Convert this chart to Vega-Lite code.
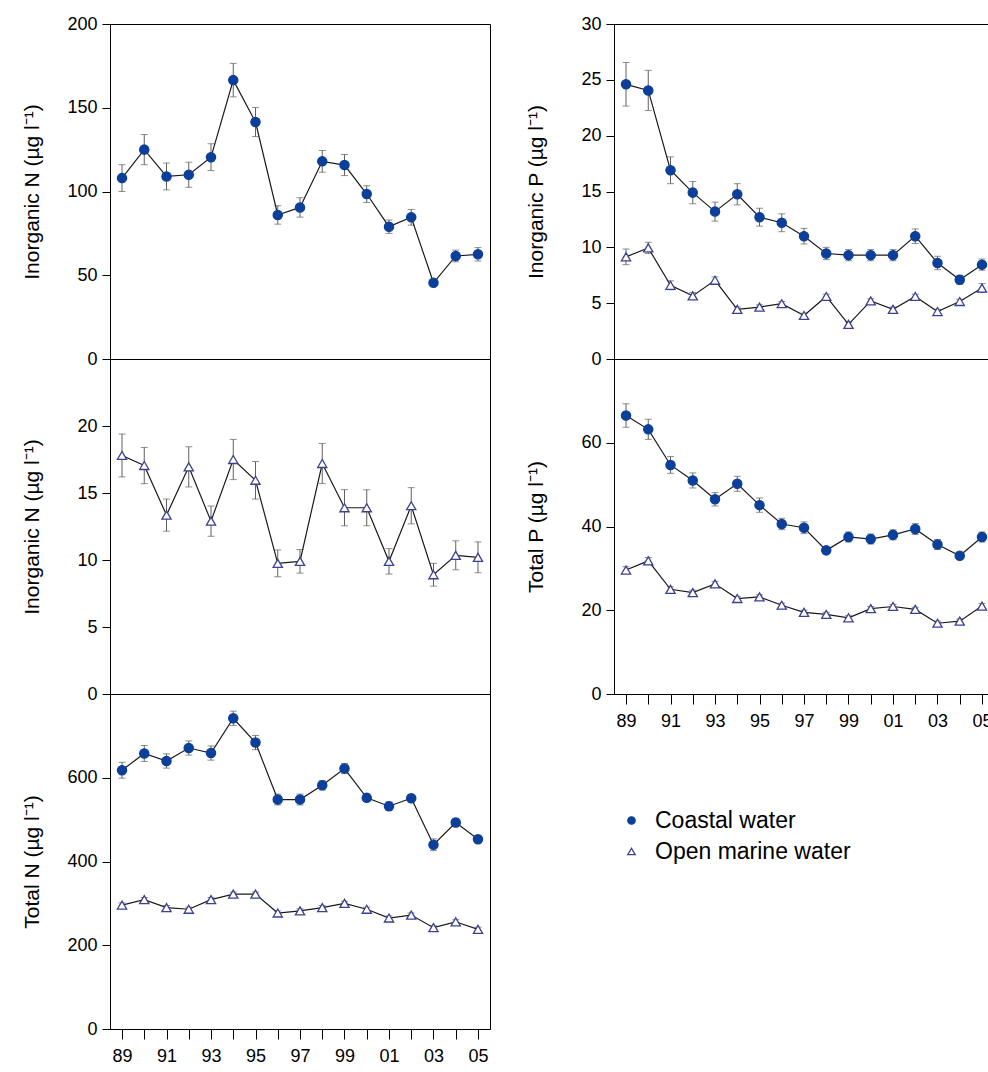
{
  "$schema": "https://vega.github.io/schema/vega-lite/v6.json",
  "background": "white",
  "padding": {"left": 20, "top": 14, "right": 0, "bottom": 0},
  "data": {"values": [
    {"v":"IN","s":"Coastal water","y":1989,"m":108,"e":8},
    {"v":"IN","s":"Coastal water","y":1990,"m":125,"e":9},
    {"v":"IN","s":"Coastal water","y":1991,"m":109,"e":8},
    {"v":"IN","s":"Coastal water","y":1992,"m":110,"e":7.5},
    {"v":"IN","s":"Coastal water","y":1993,"m":120.5,"e":8},
    {"v":"IN","s":"Coastal water","y":1994,"m":166.5,"e":10},
    {"v":"IN","s":"Coastal water","y":1995,"m":141.5,"e":8.7},
    {"v":"IN","s":"Coastal water","y":1996,"m":86,"e":5.5},
    {"v":"IN","s":"Coastal water","y":1997,"m":90.5,"e":5.8},
    {"v":"IN","s":"Coastal water","y":1998,"m":118,"e":6.5},
    {"v":"IN","s":"Coastal water","y":1999,"m":115.8,"e":6.3},
    {"v":"IN","s":"Coastal water","y":2000,"m":98.5,"e":5},
    {"v":"IN","s":"Coastal water","y":2001,"m":79,"e":4},
    {"v":"IN","s":"Coastal water","y":2002,"m":84.6,"e":4.7},
    {"v":"IN","s":"Coastal water","y":2003,"m":45.5,"e":2},
    {"v":"IN","s":"Coastal water","y":2004,"m":61.5,"e":3.5},
    {"v":"IN","s":"Coastal water","y":2005,"m":62.5,"e":4},
    {"v":"IN","s":"Open marine water","y":1989,"m":17.8,"e":1.6},
    {"v":"IN","s":"Open marine water","y":1990,"m":17.05,"e":1.35},
    {"v":"IN","s":"Open marine water","y":1991,"m":13.35,"e":1.2},
    {"v":"IN","s":"Open marine water","y":1992,"m":16.95,"e":1.5},
    {"v":"IN","s":"Open marine water","y":1993,"m":12.9,"e":1.13},
    {"v":"IN","s":"Open marine water","y":1994,"m":17.5,"e":1.5},
    {"v":"IN","s":"Open marine water","y":1995,"m":15.95,"e":1.4},
    {"v":"IN","s":"Open marine water","y":1996,"m":9.75,"e":1.0},
    {"v":"IN","s":"Open marine water","y":1997,"m":9.9,"e":0.88},
    {"v":"IN","s":"Open marine water","y":1998,"m":17.2,"e":1.5},
    {"v":"IN","s":"Open marine water","y":1999,"m":13.9,"e":1.35},
    {"v":"IN","s":"Open marine water","y":2000,"m":13.9,"e":1.35},
    {"v":"IN","s":"Open marine water","y":2001,"m":9.9,"e":0.95},
    {"v":"IN","s":"Open marine water","y":2002,"m":14.05,"e":1.35},
    {"v":"IN","s":"Open marine water","y":2003,"m":8.9,"e":0.85},
    {"v":"IN","s":"Open marine water","y":2004,"m":10.35,"e":1.08},
    {"v":"IN","s":"Open marine water","y":2005,"m":10.2,"e":1.15},
    {"v":"TN","s":"Coastal water","y":1989,"m":618,"e":19},
    {"v":"TN","s":"Coastal water","y":1990,"m":658,"e":19},
    {"v":"TN","s":"Coastal water","y":1991,"m":640,"e":17},
    {"v":"TN","s":"Coastal water","y":1992,"m":671,"e":17},
    {"v":"TN","s":"Coastal water","y":1993,"m":659,"e":17},
    {"v":"TN","s":"Coastal water","y":1994,"m":742,"e":17},
    {"v":"TN","s":"Coastal water","y":1995,"m":684,"e":17},
    {"v":"TN","s":"Coastal water","y":1996,"m":548,"e":13},
    {"v":"TN","s":"Coastal water","y":1997,"m":548,"e":13},
    {"v":"TN","s":"Coastal water","y":1998,"m":582,"e":11},
    {"v":"TN","s":"Coastal water","y":1999,"m":622,"e":12},
    {"v":"TN","s":"Coastal water","y":2000,"m":552,"e":9},
    {"v":"TN","s":"Coastal water","y":2001,"m":532,"e":10},
    {"v":"TN","s":"Coastal water","y":2002,"m":551,"e":9},
    {"v":"TN","s":"Coastal water","y":2003,"m":440,"e":14},
    {"v":"TN","s":"Coastal water","y":2004,"m":493,"e":10},
    {"v":"TN","s":"Coastal water","y":2005,"m":453,"e":8},
    {"v":"TN","s":"Open marine water","y":1989,"m":296,"e":5},
    {"v":"TN","s":"Open marine water","y":1990,"m":309,"e":5},
    {"v":"TN","s":"Open marine water","y":1991,"m":290,"e":5},
    {"v":"TN","s":"Open marine water","y":1992,"m":286,"e":5},
    {"v":"TN","s":"Open marine water","y":1993,"m":309,"e":5},
    {"v":"TN","s":"Open marine water","y":1994,"m":322,"e":5},
    {"v":"TN","s":"Open marine water","y":1995,"m":322,"e":5},
    {"v":"TN","s":"Open marine water","y":1996,"m":277,"e":5},
    {"v":"TN","s":"Open marine water","y":1997,"m":282,"e":5},
    {"v":"TN","s":"Open marine water","y":1998,"m":290,"e":5},
    {"v":"TN","s":"Open marine water","y":1999,"m":300,"e":5},
    {"v":"TN","s":"Open marine water","y":2000,"m":286,"e":5},
    {"v":"TN","s":"Open marine water","y":2001,"m":265,"e":5},
    {"v":"TN","s":"Open marine water","y":2002,"m":272,"e":5},
    {"v":"TN","s":"Open marine water","y":2003,"m":242,"e":5},
    {"v":"TN","s":"Open marine water","y":2004,"m":256,"e":5},
    {"v":"TN","s":"Open marine water","y":2005,"m":238,"e":5},
    {"v":"IP","s":"Coastal water","y":1989,"m":24.6,"e":1.95},
    {"v":"IP","s":"Coastal water","y":1990,"m":24.05,"e":1.8},
    {"v":"IP","s":"Coastal water","y":1991,"m":16.9,"e":1.2},
    {"v":"IP","s":"Coastal water","y":1992,"m":14.9,"e":1.0},
    {"v":"IP","s":"Coastal water","y":1993,"m":13.2,"e":0.85},
    {"v":"IP","s":"Coastal water","y":1994,"m":14.75,"e":0.95},
    {"v":"IP","s":"Coastal water","y":1995,"m":12.7,"e":0.8},
    {"v":"IP","s":"Coastal water","y":1996,"m":12.2,"e":0.8},
    {"v":"IP","s":"Coastal water","y":1997,"m":11.0,"e":0.7},
    {"v":"IP","s":"Coastal water","y":1998,"m":9.45,"e":0.55},
    {"v":"IP","s":"Coastal water","y":1999,"m":9.3,"e":0.5},
    {"v":"IP","s":"Coastal water","y":2000,"m":9.3,"e":0.5},
    {"v":"IP","s":"Coastal water","y":2001,"m":9.3,"e":0.5},
    {"v":"IP","s":"Coastal water","y":2002,"m":11.0,"e":0.65},
    {"v":"IP","s":"Coastal water","y":2003,"m":8.6,"e":0.6},
    {"v":"IP","s":"Coastal water","y":2004,"m":7.1,"e":0.4},
    {"v":"IP","s":"Coastal water","y":2005,"m":8.45,"e":0.5},
    {"v":"IP","s":"Open marine water","y":1989,"m":9.15,"e":0.7},
    {"v":"IP","s":"Open marine water","y":1990,"m":9.95,"e":0.5},
    {"v":"IP","s":"Open marine water","y":1991,"m":6.6,"e":0.4},
    {"v":"IP","s":"Open marine water","y":1992,"m":5.65,"e":0.3},
    {"v":"IP","s":"Open marine water","y":1993,"m":7.05,"e":0.3},
    {"v":"IP","s":"Open marine water","y":1994,"m":4.45,"e":0.2},
    {"v":"IP","s":"Open marine water","y":1995,"m":4.65,"e":0.2},
    {"v":"IP","s":"Open marine water","y":1996,"m":4.95,"e":0.2},
    {"v":"IP","s":"Open marine water","y":1997,"m":3.9,"e":0.2},
    {"v":"IP","s":"Open marine water","y":1998,"m":5.6,"e":0.2},
    {"v":"IP","s":"Open marine water","y":1999,"m":3.1,"e":0.2},
    {"v":"IP","s":"Open marine water","y":2000,"m":5.2,"e":0.2},
    {"v":"IP","s":"Open marine water","y":2001,"m":4.45,"e":0.2},
    {"v":"IP","s":"Open marine water","y":2002,"m":5.6,"e":0.2},
    {"v":"IP","s":"Open marine water","y":2003,"m":4.25,"e":0.2},
    {"v":"IP","s":"Open marine water","y":2004,"m":5.15,"e":0.2},
    {"v":"IP","s":"Open marine water","y":2005,"m":6.35,"e":0.4},
    {"v":"TP","s":"Coastal water","y":1989,"m":66.5,"e":2.8},
    {"v":"TP","s":"Coastal water","y":1990,"m":63.2,"e":2.4},
    {"v":"TP","s":"Coastal water","y":1991,"m":54.7,"e":2},
    {"v":"TP","s":"Coastal water","y":1992,"m":51.0,"e":1.8},
    {"v":"TP","s":"Coastal water","y":1993,"m":46.5,"e":1.6},
    {"v":"TP","s":"Coastal water","y":1994,"m":50.2,"e":1.8},
    {"v":"TP","s":"Coastal water","y":1995,"m":45.1,"e":1.7},
    {"v":"TP","s":"Coastal water","y":1996,"m":40.6,"e":1.35},
    {"v":"TP","s":"Coastal water","y":1997,"m":39.7,"e":1.4},
    {"v":"TP","s":"Coastal water","y":1998,"m":34.3,"e":0.7},
    {"v":"TP","s":"Coastal water","y":1999,"m":37.5,"e":1.2},
    {"v":"TP","s":"Coastal water","y":2000,"m":37.0,"e":1.2},
    {"v":"TP","s":"Coastal water","y":2001,"m":38.0,"e":1.2},
    {"v":"TP","s":"Coastal water","y":2002,"m":39.4,"e":1.3},
    {"v":"TP","s":"Coastal water","y":2003,"m":35.7,"e":1.2},
    {"v":"TP","s":"Coastal water","y":2004,"m":33.0,"e":0.7},
    {"v":"TP","s":"Coastal water","y":2005,"m":37.5,"e":1.2},
    {"v":"TP","s":"Open marine water","y":1989,"m":29.6,"e":0.8},
    {"v":"TP","s":"Open marine water","y":1990,"m":31.8,"e":0.8},
    {"v":"TP","s":"Open marine water","y":1991,"m":25.0,"e":0.6},
    {"v":"TP","s":"Open marine water","y":1992,"m":24.2,"e":0.6},
    {"v":"TP","s":"Open marine water","y":1993,"m":26.3,"e":0.6},
    {"v":"TP","s":"Open marine water","y":1994,"m":22.8,"e":0.5},
    {"v":"TP","s":"Open marine water","y":1995,"m":23.2,"e":0.5},
    {"v":"TP","s":"Open marine water","y":1996,"m":21.2,"e":0.5},
    {"v":"TP","s":"Open marine water","y":1997,"m":19.5,"e":0.5},
    {"v":"TP","s":"Open marine water","y":1998,"m":19.0,"e":0.5},
    {"v":"TP","s":"Open marine water","y":1999,"m":18.2,"e":0.5},
    {"v":"TP","s":"Open marine water","y":2000,"m":20.4,"e":0.5},
    {"v":"TP","s":"Open marine water","y":2001,"m":20.9,"e":0.5},
    {"v":"TP","s":"Open marine water","y":2002,"m":20.2,"e":0.5},
    {"v":"TP","s":"Open marine water","y":2003,"m":16.9,"e":0.5},
    {"v":"TP","s":"Open marine water","y":2004,"m":17.4,"e":0.5},
    {"v":"TP","s":"Open marine water","y":2005,"m":21.0,"e":0.6}
  ]},
  "spacing": 33,
  "hconcat": [
    {
      "bounds": "flush",
      "spacing": 0,
      "vconcat": [
        {
          "width": 380, "height": 335,
          "transform": [{"filter": "datum.v == 'IN' && datum.s == 'Coastal water'"}],
          "encoding": {
            "x": {"field": "y", "type": "quantitative", "scale": {"domain": [1988.46, 2005.54], "nice": false, "zero": false}, "axis": null},
            "y": {"field": "m", "type": "quantitative", "scale": {"domain": [0, 200], "nice": false}, "axis": {"title": "Inorganic N (µg l⁻¹)", "values": [0, 50, 100, 150, 200]}}
          },
          "layer": [
            {"mark": {"type": "errorbar", "color": "#606060", "ticks": {"size": 7, "color": "#606060"}}, "encoding": {"yError": {"field": "e"}}},
            {"mark": {"type": "line", "color": "#1a1a1a", "strokeWidth": 1.2}, "encoding": {"detail": {"field": "s"}}},
            {"mark": {"type": "point", "opacity": 1, "strokeWidth": 1.3, "size": 85},
             "encoding": {
               "fill": {"field": "s", "type": "nominal", "scale": {"domain": ["Coastal water", "Open marine water"], "range": ["#0b3f9a", "#ffffff"]}, "legend": {"title": null}},
               "stroke": {"field": "s", "type": "nominal", "scale": {"domain": ["Coastal water", "Open marine water"], "range": ["#0b3f9a", "#3b4090"]}, "legend": {"title": null}},
               "shape": {"field": "s", "type": "nominal", "scale": {"domain": ["Coastal water", "Open marine water"], "range": ["circle", "triangle-up"]}, "legend": {"title": null}}
             }}
          ]
        },
        {
          "width": 380, "height": 335,
          "transform": [{"filter": "datum.v == 'IN' && datum.s == 'Open marine water'"}],
          "encoding": {
            "x": {"field": "y", "type": "quantitative", "scale": {"domain": [1988.46, 2005.54], "nice": false, "zero": false}, "axis": null},
            "y": {"field": "m", "type": "quantitative", "scale": {"domain": [0, 25], "nice": false}, "axis": {"title": "Inorganic N (µg l⁻¹)", "values": [0, 5, 10, 15, 20]}}
          },
          "layer": [
            {"mark": {"type": "errorbar", "color": "#606060", "ticks": {"size": 7, "color": "#606060"}}, "encoding": {"yError": {"field": "e"}}},
            {"mark": {"type": "line", "color": "#1a1a1a", "strokeWidth": 1.2}, "encoding": {"detail": {"field": "s"}}},
            {"mark": {"type": "point", "opacity": 1, "strokeWidth": 1.3, "size": 85},
             "encoding": {
               "fill": {"field": "s", "type": "nominal", "scale": {"domain": ["Coastal water", "Open marine water"], "range": ["#0b3f9a", "#ffffff"]}, "legend": {"title": null}},
               "stroke": {"field": "s", "type": "nominal", "scale": {"domain": ["Coastal water", "Open marine water"], "range": ["#0b3f9a", "#3b4090"]}, "legend": {"title": null}},
               "shape": {"field": "s", "type": "nominal", "scale": {"domain": ["Coastal water", "Open marine water"], "range": ["circle", "triangle-up"]}, "legend": {"title": null}}
             }}
          ]
        },
        {
          "width": 380, "height": 335,
          "transform": [{"filter": "datum.v == 'TN'"}],
          "encoding": {
            "x": {"field": "y", "type": "quantitative", "scale": {"domain": [1988.46, 2005.54], "nice": false, "zero": false},
                  "axis": {"title": null, "values": [1989,1990,1991,1992,1993,1994,1995,1996,1997,1998,1999,2000,2001,2002,2003,2004,2005],
                           "labelExpr": "datum.value % 2 == 1 ? format(datum.value % 100, '02d') : ''"}},
            "y": {"field": "m", "type": "quantitative", "scale": {"domain": [0, 800], "nice": false}, "axis": {"title": "Total N (µg l⁻¹)", "values": [0, 200, 400, 600]}}
          },
          "layer": [
            {"mark": {"type": "errorbar", "color": "#606060", "ticks": {"size": 7, "color": "#606060"}}, "encoding": {"yError": {"field": "e"}}},
            {"mark": {"type": "line", "color": "#1a1a1a", "strokeWidth": 1.2}, "encoding": {"detail": {"field": "s"}}},
            {"mark": {"type": "point", "opacity": 1, "strokeWidth": 1.3, "size": 85},
             "encoding": {
               "fill": {"field": "s", "type": "nominal", "scale": {"domain": ["Coastal water", "Open marine water"], "range": ["#0b3f9a", "#ffffff"]}, "legend": {"title": null}},
               "stroke": {"field": "s", "type": "nominal", "scale": {"domain": ["Coastal water", "Open marine water"], "range": ["#0b3f9a", "#3b4090"]}, "legend": {"title": null}},
               "shape": {"field": "s", "type": "nominal", "scale": {"domain": ["Coastal water", "Open marine water"], "range": ["circle", "triangle-up"]}, "legend": {"title": null}}
             }}
          ]
        }
      ]
    },
    {
      "bounds": "flush",
      "spacing": 0,
      "vconcat": [
        {
          "width": 380, "height": 335,
          "transform": [{"filter": "datum.v == 'IP'"}],
          "encoding": {
            "x": {"field": "y", "type": "quantitative", "scale": {"domain": [1988.46, 2005.54], "nice": false, "zero": false}, "axis": null},
            "y": {"field": "m", "type": "quantitative", "scale": {"domain": [0, 30], "nice": false}, "axis": {"title": "Inorganic P (µg l⁻¹)", "values": [0, 5, 10, 15, 20, 25, 30]}}
          },
          "layer": [
            {"mark": {"type": "errorbar", "color": "#606060", "ticks": {"size": 7, "color": "#606060"}}, "encoding": {"yError": {"field": "e"}}},
            {"mark": {"type": "line", "color": "#1a1a1a", "strokeWidth": 1.2}, "encoding": {"detail": {"field": "s"}}},
            {"mark": {"type": "point", "opacity": 1, "strokeWidth": 1.3, "size": 85},
             "encoding": {
               "fill": {"field": "s", "type": "nominal", "scale": {"domain": ["Coastal water", "Open marine water"], "range": ["#0b3f9a", "#ffffff"]}, "legend": {"title": null}},
               "stroke": {"field": "s", "type": "nominal", "scale": {"domain": ["Coastal water", "Open marine water"], "range": ["#0b3f9a", "#3b4090"]}, "legend": {"title": null}},
               "shape": {"field": "s", "type": "nominal", "scale": {"domain": ["Coastal water", "Open marine water"], "range": ["circle", "triangle-up"]}, "legend": {"title": null}}
             }}
          ]
        },
        {
          "width": 380, "height": 335,
          "transform": [{"filter": "datum.v == 'TP'"}],
          "encoding": {
            "x": {"field": "y", "type": "quantitative", "scale": {"domain": [1988.46, 2005.54], "nice": false, "zero": false},
                  "axis": {"title": null, "values": [1989,1990,1991,1992,1993,1994,1995,1996,1997,1998,1999,2000,2001,2002,2003,2004,2005],
                           "labelExpr": "datum.value % 2 == 1 ? format(datum.value % 100, '02d') : ''"}},
            "y": {"field": "m", "type": "quantitative", "scale": {"domain": [0, 80], "nice": false}, "axis": {"title": "Total P (µg l⁻¹)", "values": [0, 20, 40, 60]}}
          },
          "layer": [
            {"mark": {"type": "errorbar", "color": "#606060", "ticks": {"size": 7, "color": "#606060"}}, "encoding": {"yError": {"field": "e"}}},
            {"mark": {"type": "line", "color": "#1a1a1a", "strokeWidth": 1.2}, "encoding": {"detail": {"field": "s"}}},
            {"mark": {"type": "point", "opacity": 1, "strokeWidth": 1.3, "size": 85},
             "encoding": {
               "fill": {"field": "s", "type": "nominal", "scale": {"domain": ["Coastal water", "Open marine water"], "range": ["#0b3f9a", "#ffffff"]}, "legend": {"title": null}},
               "stroke": {"field": "s", "type": "nominal", "scale": {"domain": ["Coastal water", "Open marine water"], "range": ["#0b3f9a", "#3b4090"]}, "legend": {"title": null}},
               "shape": {"field": "s", "type": "nominal", "scale": {"domain": ["Coastal water", "Open marine water"], "range": ["circle", "triangle-up"]}, "legend": {"title": null}}
             }}
          ]
        }
      ]
    }
  ],
  "config": {
    "font": "Liberation Sans",
    "view": {"stroke": "black", "strokeWidth": 1},
    "axis": {"grid": false, "domainColor": "black", "tickColor": "black", "labelColor": "black", "titleColor": "black",
             "labelFont": "Liberation Sans", "titleFont": "Liberation Sans", "labelFontSize": 18, "titleFontSize": 21,
             "titleFontWeight": "normal", "tickSize": 8, "labelPadding": 5},
    "axisY": {"minExtent": 60, "maxExtent": 60, "titlePadding": 8},
    "axisX": {"tickSize": 10, "labelPadding": 8},
    "legend": {"orient": "none", "legendX": 510, "legendY": 785, "labelFontSize": 23, "labelFont": "Liberation Sans",
               "labelColor": "black", "labelLimit": 0, "symbolSize": 55, "rowPadding": 7, "labelOffset": 12, "padding": 0, "symbolStrokeWidth": 1.3}
  }
}
